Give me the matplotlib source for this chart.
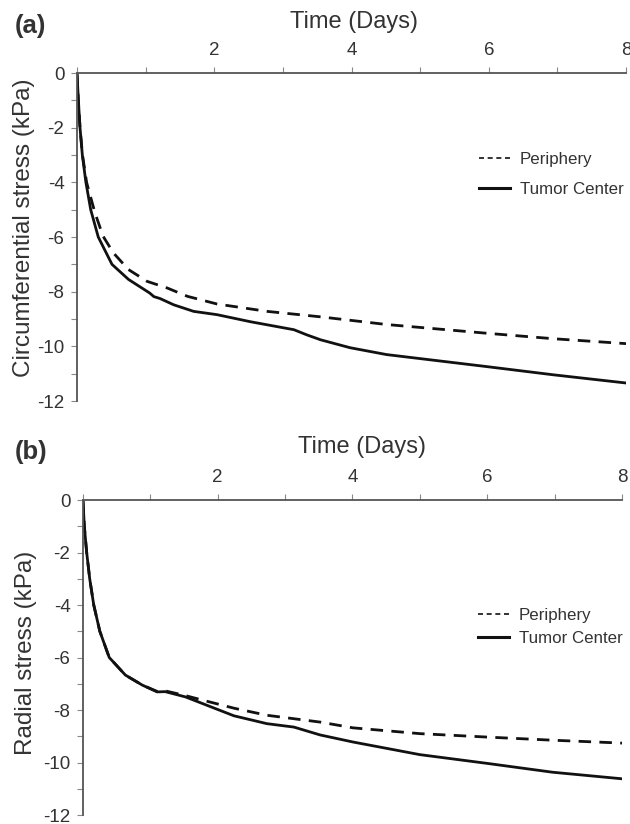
import matplotlib
matplotlib.use("Agg")
import matplotlib.pyplot as plt
import numpy as np

plt.rcParams['font.family'] = ['Liberation Sans', 'DejaVu Sans']

# Panel (a): circumferential stress
a_center_t = [0.0, 0.019, 0.044, 0.078, 0.13, 0.20, 0.31, 0.51, 0.75, 1.06, 1.12, 1.21, 1.41, 1.70, 2.04, 2.53, 3.16, 3.35, 3.55, 3.98, 4.51, 5.97, 6.94, 8.0]
a_center_v = [0.0, -0.95, -2.0, -3.0, -4.0, -5.0, -6.0, -7.0, -7.55, -8.05, -8.18, -8.25, -8.48, -8.72, -8.84, -9.10, -9.39, -9.58, -9.76, -10.05, -10.3, -10.74, -11.04, -11.34]
a_periph_t = [0.0, 0.019, 0.044, 0.08, 0.14, 0.26, 0.38, 0.53, 0.75, 1.02, 1.31, 1.61, 2.04, 2.77, 3.55, 4.51, 5.97, 6.94, 8.0]
a_periph_v = [0.0, -0.95, -2.0, -3.0, -4.0, -5.1, -5.97, -6.58, -7.19, -7.62, -7.86, -8.17, -8.45, -8.72, -8.92, -9.20, -9.52, -9.72, -9.90]

# Panel (b): radial stress
b_center_t = [0.0, 0.02, 0.055, 0.10, 0.16, 0.25, 0.39, 0.63, 0.88, 1.10, 1.22, 1.52, 1.74, 2.24, 2.73, 3.13, 3.52, 4.01, 5.0, 5.99, 6.97, 8.0]
b_center_v = [0.0, -1.0, -2.0, -3.0, -4.0, -5.0, -6.0, -6.67, -7.05, -7.31, -7.30, -7.50, -7.72, -8.22, -8.52, -8.65, -8.95, -9.22, -9.70, -10.03, -10.37, -10.62]
b_periph_t = [0.0, 0.02, 0.055, 0.10, 0.16, 0.25, 0.39, 0.63, 0.88, 1.10, 1.22, 1.52, 1.74, 2.24, 2.73, 3.52, 4.01, 5.0, 5.99, 6.97, 8.0]
b_periph_v = [0.0, -1.0, -2.0, -3.0, -4.0, -5.0, -6.0, -6.67, -7.05, -7.29, -7.27, -7.45, -7.60, -7.93, -8.20, -8.46, -8.68, -8.90, -9.03, -9.15, -9.26]

x_major = [2, 4, 6, 8]
x_minor = [0, 1, 3, 5, 7]
y_major = [0, -2, -4, -6, -8, -10, -12]
y_minor = [-1, -3, -5, -7, -9, -11]

series_labels = ["Periphery", "Tumor Center"]
xlabel = "Time (Days)"

TXT = '#333333'
AX = '#555555'

fig = plt.figure(figsize=(6.3, 8.24), dpi=100)

def panel(rect, ct, cv, pt, pv, ylabel, tag, leg_y, leg_sp, ylab_xy, tag_y, xlab_xy):
    ax = fig.add_axes(rect)
    ax.plot(pt, pv, color='#111111', lw=2.0, ls=(0, (4.5, 3)), label=series_labels[0])
    ax.plot(ct, cv, color='#111111', lw=2.0, ls='-', label=series_labels[1])
    ax.set_xlim(0, 8)
    ax.set_ylim(-12, 0)
    for s in ['right', 'bottom']:
        ax.spines[s].set_visible(False)
    for s in ['top', 'left']:
        ax.spines[s].set_color(AX)
        ax.spines[s].set_linewidth(1.3)
    ax.xaxis.tick_top()
    ax.set_xticks(x_major)
    ax.set_xticks(x_minor, minor=True)
    ax.set_yticks(y_major)
    ax.set_yticks(y_minor, minor=True)
    ax.set_yticklabels([str(v) for v in y_major])
    ax.tick_params(axis='both', which='both', direction='out', length=4, width=0.8,
                   color='#888888', labelsize=13.5, labelcolor=TXT)
    ax.tick_params(axis='x', which='both', top=True, bottom=False, pad=6)
    ax.tick_params(axis='y', which='both', pad=5)
    ax.set_ylabel(ylabel, fontsize=17.5, color=TXT)
    ax.yaxis.set_label_coords(*ylab_xy)
    leg = ax.legend(loc='upper left', bbox_to_anchor=(0.72, leg_y), frameon=False,
                    borderaxespad=0.0, fontsize=12.2, handlelength=1.85,
                    handletextpad=0.55, labelspacing=leg_sp)
    for t in leg.get_texts():
        t.set_color(TXT)
    lines = leg.get_lines()
    lines[0].set_linewidth(1.2)
    lines[0].set_linestyle((0, (3, 2.2)))
    lines[1].set_linewidth(2.2)
    fig.text(xlab_xy[0], xlab_xy[1], xlabel, fontsize=17, color=TXT, ha='center', va='center')
    fig.text(0.024, tag_y, tag, fontsize=18.5, fontweight='bold', color=TXT, ha='left', va='center')
    return ax

panel([0.1222, 0.5133, 0.8715, 0.3981], a_center_t, a_center_v, a_periph_t, a_periph_v,
      "Circumferential stress (kPa)", "(a)", 0.78, 0.9, (-0.077, 0.527), 0.968, (0.562, 0.973))
panel([0.1317, 0.0109, 0.8556, 0.3823], b_center_t, b_center_v, b_periph_t, b_periph_v,
      "Radial stress (kPa)", "(b)", 0.68, 0.5, (-0.085, 0.516), 0.4515, (0.575, 0.4575))

fig.savefig("out.png", dpi=100)
